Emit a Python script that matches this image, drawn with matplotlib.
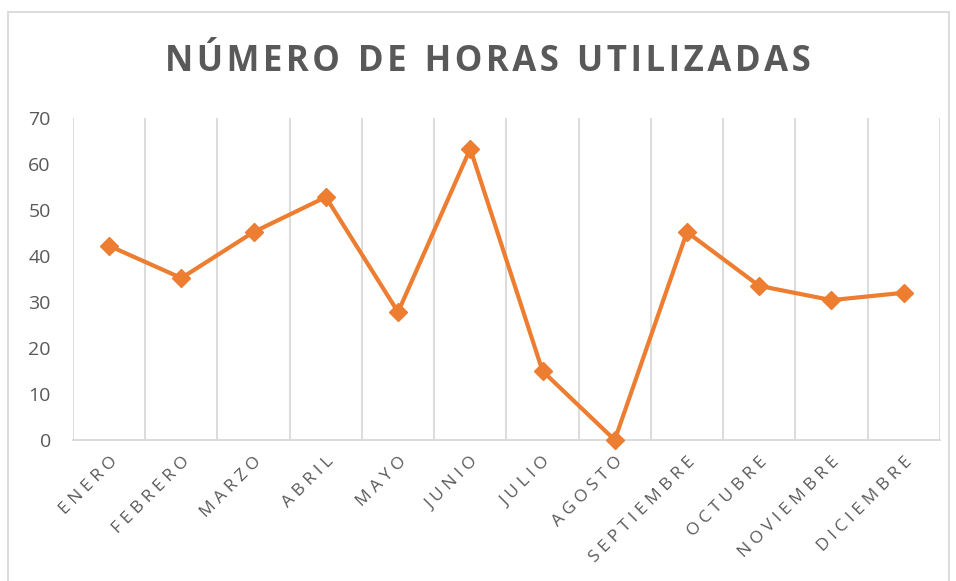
import matplotlib.pyplot as plt
from matplotlib.patches import Rectangle

meses = ["ENERO", "FEBRERO", "MARZO", "ABRIL", "MAYO", "JUNIO",
         "JULIO", "AGOSTO", "SEPTIEMBRE", "OCTUBRE", "NOVIEMBRE", "DICIEMBRE"]
horas = [42.2, 35.2, 45.2, 52.8, 27.8, 63.3, 15.0, 0.0, 45.2, 33.5, 30.4, 32.0]
yticks = [0, 10, 20, 30, 40, 50, 60, 70]
titulo = "NÚMERO DE HORAS UTILIZADAS"

gris = "#595959"
naranja = "#ED7D31"

fig = plt.figure(figsize=(9.56, 5.81), dpi=100)
ax = fig.add_axes([0.0764, 0.2427, 0.9066, 0.5543])

x = list(range(len(meses)))
ax.plot(x, horas, color=naranja, linewidth=3, marker="D", markersize=9,
        markerfacecolor=naranja, markeredgecolor=naranja, zorder=3, clip_on=False)

ax.set_xlim(-0.5, len(meses) - 0.5)
ax.set_ylim(0, 70)
ax.set_yticks(yticks)
ax.set_yticklabels([str(v) for v in yticks], fontsize=14, color=gris, family="Open Sans")

ax.set_xticks(x)
ax.set_xticklabels([" ".join(m) for m in meses], rotation=45, ha="right",
                   rotation_mode="anchor", fontsize=12.5, color=gris, family="Open Sans")

# lineas verticales entre categorias
for b in range(len(meses) + 1):
    ax.axvline(b - 0.5, color="#D9D9D9", linewidth=1.3, zorder=1)

for s in ["top", "right", "left"]:
    ax.spines[s].set_visible(False)
ax.spines["bottom"].set_color("#D9D9D9")
ax.spines["bottom"].set_linewidth(1.3)
ax.tick_params(axis="y", length=0, pad=16)
ax.tick_params(axis="x", length=0, pad=10)

# espaciado entre letras con espacio fino
titulo_esp = "  ".join("\u200a".join(p) for p in titulo.split(" "))
fig.text(0.51, 0.893, titulo_esp,
         ha="center", va="center", fontsize=25, fontweight="bold", color=gris,
         family=["Open Sans", "DejaVu Sans"])

fig.patches.append(Rectangle((0.008, -0.1), 0.985, 1.08, transform=fig.transFigure,
                             fill=False, edgecolor="#D9D9D9", linewidth=1.3))

fig.savefig("out.png", dpi=100)
